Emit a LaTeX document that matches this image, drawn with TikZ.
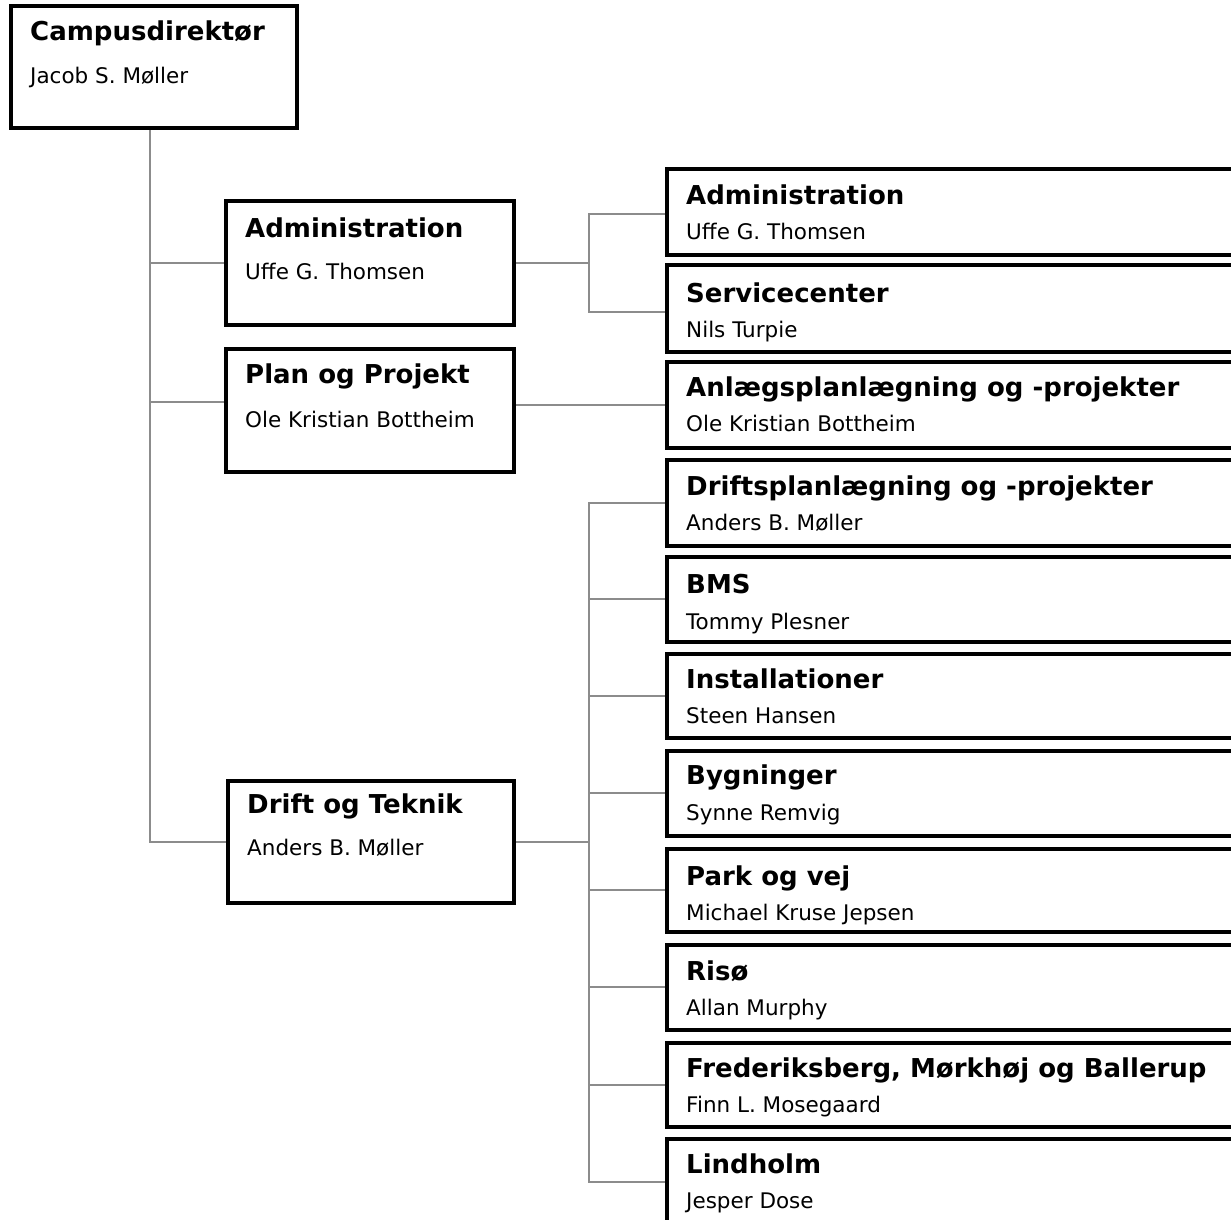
\documentclass[tikz,border=0pt]{standalone}
\usepackage{fontspec}
\setmainfont{DejaVu Sans}
\usetikzlibrary{calc,backgrounds}
\definecolor{linkgray}{RGB}{140,140,140}

\tikzset{
  unitbox/.style={draw=black, line width=4pt, fill=white, inner sep=0pt, outer sep=0pt},
  unittitle/.style={anchor=base west, inner sep=0pt, font=\fontsize{26}{30}\selectfont\bfseries},
  unitperson/.style={anchor=base west, inner sep=0pt, font=\fontsize{21.5}{25}\selectfont},
  link/.style={draw=linkgray, line width=2pt}
}

% #1 name, #2 left, #3 top, #4 width, #5 height,
% #6 title baseline offset, #7 person baseline offset, #8 title, #9 person
\newcommand\orgunit[9]{%
  \node[unitbox, minimum width=#4pt, minimum height=#5pt, anchor=north west] (#1) at (#2,#3) {};
  \node[unittitle] (#1-t) at ($(#1.north west)+(19.5,#6)$) {#8};
  \node[unitperson] (#1-p) at ($(#1.north west)+(19.5,#7)$) {#9};
}

\begin{document}
\begin{tikzpicture}[x=1pt, y=-1pt]
\useasboundingbox (0,0) rectangle (1231,1219);

% top level
\orgunit{cd}{10.5}{5.5}{286}{122}{34.5}{77.5}{Campusdirektør}{Jacob S. Møller}

% middle level
\orgunit{adm}{225.5}{200.5}{288}{124}{36.5}{78.5}{Administration}{Uffe G. Thomsen}
\orgunit{plan}{225.5}{348.5}{288}{123}{34.5}{78.5}{Plan og Projekt}{Ole Kristian Bottheim}
\orgunit{drift}{227.5}{780.5}{286}{122}{32.5}{74.5}{Drift og Teknik}{Anders B. Møller}

% right column
\orgunit{admr}{666.5}{168.5}{578}{86}{35.5}{70.5}{Administration}{Uffe G. Thomsen}
\orgunit{svc}{666.5}{264.5}{578}{87}{37.5}{72.5}{Servicecenter}{Nils Turpie}
\orgunit{anl}{666.5}{361.5}{578}{86}{34.5}{69.5}{Anlægsplanlægning og -projekter}{Ole Kristian Bottheim}
\orgunit{dps}{666.5}{459.5}{578}{86}{35.5}{70.5}{Driftsplanlægning og -projekter}{Anders B. Møller}
\orgunit{bms}{666.5}{556.5}{578}{85}{36.5}{72.5}{BMS}{Tommy Plesner}
\orgunit{inst}{666.5}{653.5}{578}{84}{34.5}{69.5}{Installationer}{Steen Hansen}
\orgunit{byg}{666.5}{750.5}{578}{85}{33.5}{69.5}{Bygninger}{Synne Remvig}
\orgunit{park}{666.5}{848.5}{578}{83}{36.5}{71.5}{Park og vej}{Michael Kruse Jepsen}
\orgunit{riso}{666.5}{944.5}{578}{85}{35.5}{70.5}{Risø}{Allan Murphy}
\orgunit{fred}{666.5}{1042.5}{578}{84}{34.5}{69.5}{Frederiksberg, Mørkhøj og Ballerup}{Finn L. Mosegaard}
\orgunit{lind}{666.5}{1138.5}{578}{86}{34.5}{69.5}{Lindholm}{Jesper Dose}

% junction points of the tree
\coordinate (trunk) at ($(cd.south west)+(139.5,0)$);
\coordinate (admjoin) at ($(adm.east)+(75.5,0)$);
\coordinate (driftjoin) at ($(drift.east)+(75.5,0)$);

\begin{scope}[on background layer]
% links from the director
\draw[link] (trunk) |- (adm.west);
\draw[link] (trunk) |- ([yshift=8pt]plan.west);
\draw[link] (trunk) |- (drift.west);

% Administration branch
\draw[link] (adm.east) -- (admjoin);
\draw[link] (admjoin) |- ([yshift=-2pt]admr.west);
\draw[link] (admjoin) |- ([yshift=-4pt]svc.west);

% Plan og Projekt branch
\draw[link] (plan.east |- anl.west) -- (anl.west);

% Drift og Teknik branch
\draw[link] (drift.east) -- (driftjoin);
\foreach \u in {dps,bms,inst,byg,park,riso,fred,lind}
  \draw[link] (driftjoin) |- (\u.west);
\end{scope}
\end{tikzpicture}
\end{document}
